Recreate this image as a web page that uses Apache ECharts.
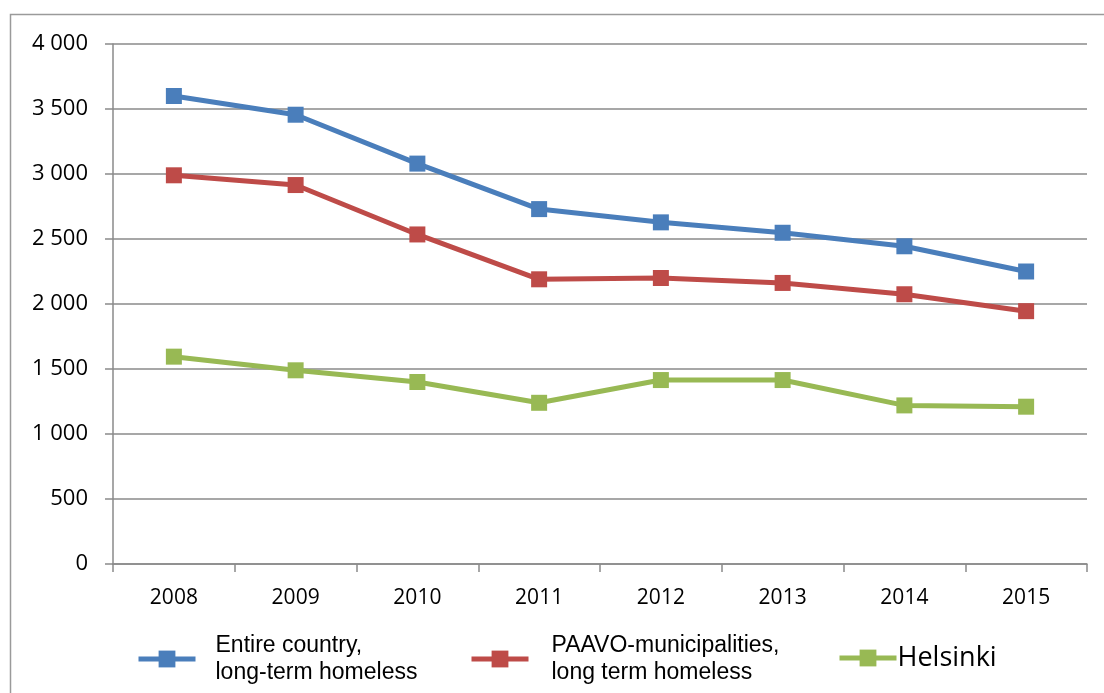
<!DOCTYPE html>
<html>
<head>
<meta charset="utf-8">
<script src="https://cdn.jsdelivr.net/npm/echarts@6/dist/echarts.min.js"></script>
<style>
  html, body { margin: 0; padding: 0; background: #fff; }
  #main { width: 1104px; height: 693px; }
</style>
</head>
<body>
<div id="main"></div>
<script>
var years = ['2008', '2009', '2010', '2011', '2012', '2013', '2014', '2015'];
var entireCountry = [3600, 3456, 3080, 2730, 2628, 2548, 2444, 2250];
var paavo = [2990, 2915, 2535, 2190, 2200, 2162, 2075, 1945];
var helsinki = [1595, 1490, 1400, 1240, 1415, 1415, 1220, 1210];
var seriesNames = ['Entire country,\nlong-term homeless', 'PAAVO-municipalities,\nlong term homeless', 'Helsinki'];
var colors = ['#4A7EBB', '#BE4B48', '#98B954'];

var chart = echarts.init(document.getElementById('main'));

function fmtThousands(v) {
    var s = String(v);
    return s.replace(/\B(?=(\d{3})+(?!\d))/g, ' ');
}

function lineSeries(name, data, color) {
    return {
        name: name,
        type: 'line',
        data: data,
        symbol: 'rect',
        symbolSize: 16,
        showAllSymbol: true,
        lineStyle: { width: 5, color: color },
        itemStyle: { color: color },
        emphasis: { disabled: true }
    };
}

// one legend per item, the gaps in the original are uneven
function legendItem(i, left, top, textStyle) {
    return {
        left: left,
        top: top,
        itemWidth: 57,
        itemHeight: 21,
        data: [{ name: seriesNames[i], lineStyle: { width: 5, color: colors[i] }, itemStyle: { color: colors[i] } }],
        textStyle: textStyle
    };
}

chart.setOption({
    animation: false,
    color: colors,
    graphic: [{
        type: 'rect',
        shape: { x: 10.5, y: 14.5, width: 1200, height: 800 },
        style: { fill: 'none', stroke: '#9a9a9a', lineWidth: 1.5 },
        silent: true
    }],
    legend: [
        legendItem(0, 131, 627, { fontFamily: 'Liberation Sans', fontSize: 23, color: '#000', lineHeight: 27, padding: [0, 0, 0, 15] }),
        legendItem(1, 464, 627, { fontFamily: 'Liberation Sans', fontSize: 23, color: '#000', lineHeight: 27, padding: [0, 0, 0, 18] }),
        legendItem(2, 832, 635, { fontFamily: 'Open Sans', fontSize: 27, color: '#000', lineHeight: 36, padding: [0, 0, 0, -4] })
    ],
    grid: { left: 113, right: 17, top: 44, bottom: 129 },
    xAxis: {
        type: 'category',
        data: years,
        boundaryGap: true,
        axisLine: { lineStyle: { color: '#8a8a8a', width: 1.5 } },
        axisTick: { show: true, length: 8, lineStyle: { color: '#8a8a8a', width: 1.5 } },
        axisLabel: { color: '#000', fontFamily: 'Open Sans', fontSize: 21, margin: 24 }
    },
    yAxis: {
        type: 'value',
        min: 0,
        max: 4000,
        interval: 500,
        axisLine: { show: true, lineStyle: { color: '#8a8a8a', width: 1.5 } },
        axisTick: { show: true, length: 8, lineStyle: { color: '#8a8a8a', width: 1.5 } },
        splitLine: { lineStyle: { color: '#8a8a8a', width: 1.5 } },
        axisLabel: {
            color: '#000', fontFamily: 'Open Sans', fontSize: 22, margin: 25,
            formatter: fmtThousands
        }
    },
    series: [
        lineSeries(seriesNames[0], entireCountry, colors[0]),
        lineSeries(seriesNames[1], paavo, colors[1]),
        lineSeries(seriesNames[2], helsinki, colors[2])
    ]
});
</script>
</body>
</html>
